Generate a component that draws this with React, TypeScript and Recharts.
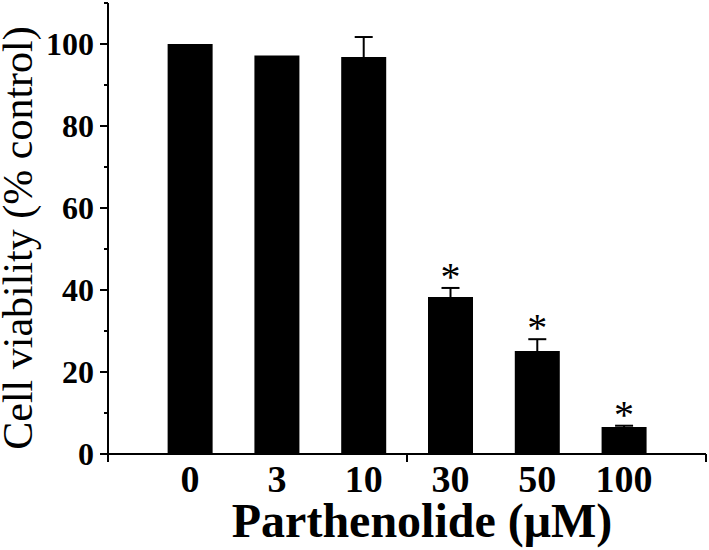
import { Bar, BarChart, ErrorBar, LabelList, XAxis, YAxis } from "recharts";

const doses = ["0", "3", "10", "30", "50", "100"];
const viability = [100, 97.2, 96.8, 38.3, 25.1, 6.6];
const viabilitySd = [0, 0, 4.9, 2.2, 2.9, 0.3];
const marks = ["", "", "", "*", "*", "*"];
const yTicks = [0, 10, 20, 30, 40, 50, 60, 70, 80, 90, 100, 110];

// bars sit at 0..5, with roughly one slot of empty space on either side
const X_PAD = 0.945;
const xDomain = [-X_PAD, doses.length - 1 + X_PAD];
const xTicks = [xDomain[0], (xDomain[0] + xDomain[1]) / 2, xDomain[1]];

const FONT = "Liberation Serif, Times New Roman, serif";

const data = doses.map((dose, i) => ({
  pos: i,
  dose,
  value: viability[i],
  sd: viabilitySd[i],
  mark: marks[i],
}));

function YTick(props: any) {
  const { x, y, payload } = props;
  const axisX = x + 14;
  const major = payload.value % 20 === 0;
  return (
    <g>
      <line x1={axisX} x2={axisX - (major ? 8 : 4)} y1={y} y2={y} stroke="#000" strokeWidth={2} />
      {major && payload.value <= 100 && (
        <text x={x} y={y} textAnchor="end" dominantBaseline="central" style={{ fontFamily: FONT }} fontWeight="bold" fontSize={32} fill="#000">
          {payload.value}
        </text>
      )}
    </g>
  );
}

function DoseLabel(props: any) {
  const vb = props.viewBox ?? props;
  const { x, y, width, height } = vb;
  return (
    <text x={x + width / 2} y={y + height + 38} textAnchor="middle" style={{ fontFamily: FONT }} fontWeight="bold" fontSize={38} fill="#000">
      {props.value}
    </text>
  );
}

function Star(props: any) {
  const vb = props.viewBox ?? props;
  const { x, y, width, height } = vb;
  const index = props.index;
  if (!props.value || index == null) return null;
  const perUnit = height / viability[index];
  const top = y - viabilitySd[index] * perUnit;
  return (
    <text x={x + width / 2} y={top + 2} textAnchor="middle" style={{ fontFamily: FONT }} fontSize={40} fill="#000">
      {props.value}
    </text>
  );
}

export default function App() {
  return (
    <div style={{ position: "absolute", left: 0, top: 0, width: 709, height: 550, background: "#fff" }}>
      <BarChart width={709} height={550} data={data} margin={{ top: 3, right: 3, left: 0, bottom: 0 }}>
        <XAxis
          dataKey="pos"
          type="number"
          domain={xDomain}
          ticks={xTicks}
          allowDataOverflow
          height={96}
          tickSize={8}
          tick={() => <g />}
          axisLine={{ stroke: "#000", strokeWidth: 2 }}
          tickLine={{ stroke: "#000", strokeWidth: 2 }}
          label={({ viewBox }: any) => (
            <text
              x={viewBox.x + viewBox.width / 2 + 15}
              y={viewBox.y + 83}
              textAnchor="middle"
              style={{ fontFamily: FONT }}
              fontWeight="bold"
              fontSize={48}
              fill="#000"
            >
              Parthenolide (μM)
            </text>
          )}
        />
        <YAxis
          width={108}
          domain={[0, 110]}
          ticks={yTicks}
          interval={0}
          tickSize={8}
          tickMargin={6}
          tickLine={false}
          axisLine={{ stroke: "#000", strokeWidth: 2 }}
          tick={<YTick />}
          label={() => (
            <text
              x={32}
              y={238}
              transform="rotate(-90 32 238)"
              textAnchor="middle"
              style={{ fontFamily: FONT }}
              fontSize={42}
              fill="#000"
            >
              Cell viability (% control)
            </text>
          )}
        />
        <Bar dataKey="value" fill="#000" barSize={45} isAnimationActive={false}>
          <ErrorBar dataKey="sd" width={9} stroke="#000" strokeWidth={2} direction="y" />
          <LabelList dataKey="mark" content={<Star />} />
          <LabelList dataKey="dose" content={<DoseLabel />} />
        </Bar>
      </BarChart>
    </div>
  );
}
